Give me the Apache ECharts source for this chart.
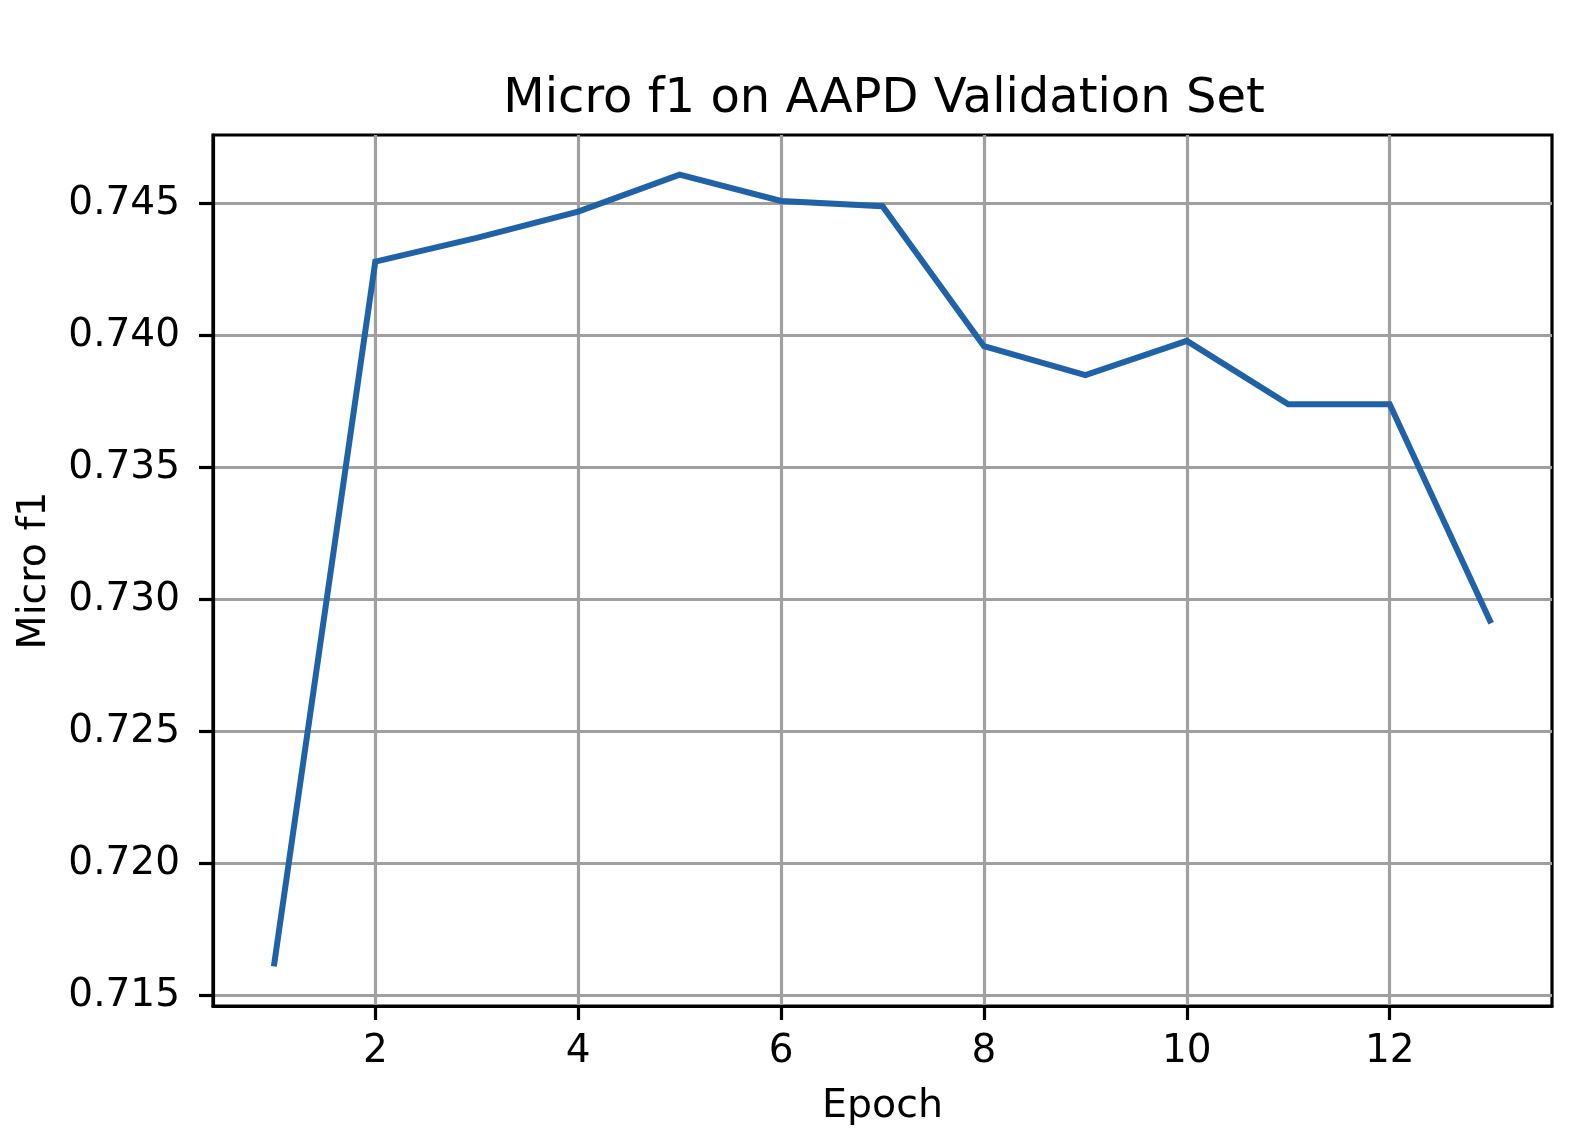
<!DOCTYPE html>
<html>
<head>
<meta charset="utf-8">
<script src="https://cdn.jsdelivr.net/npm/echarts@6/dist/echarts.min.js"></script>
<style>
  html, body { margin: 0; padding: 0; background: #fff; }
  #chart { width: 1584px; height: 1128px; }
</style>
</head>
<body>
<div id="chart"></div>
<script>
const epochs = [1, 2, 3, 4, 5, 6, 7, 8, 9, 10, 11, 12, 13];
const microF1 = [0.7161, 0.7428, 0.7437, 0.7447, 0.7461, 0.7451, 0.7449, 0.7396, 0.7385, 0.7398, 0.7374, 0.7374, 0.7291];
const xTicks = [2, 4, 6, 8, 10, 12];
const yTicks = [0.715, 0.720, 0.725, 0.730, 0.735, 0.740, 0.745];

const FONT = 'DejaVu Sans';
const chart = echarts.init(document.getElementById('chart'), null, { renderer: 'canvas' });
chart.setOption({
  animation: false,
  backgroundColor: '#ffffff',
  title: {
    text: 'Micro f1 on AAPD Validation Set',
    left: 879, textAlign: 'center', top: 71,
    textStyle: { fontFamily: FONT, fontSize: 48, fontWeight: 'normal', color: '#000' }
  },
  grid: {
    left: 213, right: 32, top: 135, bottom: 122,
    containLabel: false, outerBoundsMode: 'none',
    show: true, borderColor: '#000', borderWidth: 3.2, backgroundColor: 'transparent'
  },
  xAxis: {
    type: 'value', min: 0.4, max: 13.6,
    name: 'Epoch', nameLocation: 'middle', nameGap: 81,
    nameTextStyle: { fontFamily: FONT, fontSize: 39.5, color: '#000' },
    axisLine: { show: true, onZero: false, lineStyle: { color: '#000', width: 3.2 } },
    axisTick: { show: true, inside: false, length: 14, customValues: xTicks, lineStyle: { color: '#000', width: 3.2 } },
    axisLabel: { margin: 26, customValues: xTicks, fontFamily: FONT, fontSize: 39, color: '#000' },
    splitLine: { show: true, lineStyle: { color: '#a0a0a0', width: 3.2 } }
  },
  yAxis: {
    type: 'value', min: 0.7146, max: 0.7476,
    name: 'Micro f1', nameLocation: 'middle', nameGap: 158,
    nameTextStyle: { fontFamily: FONT, fontSize: 39.5, color: '#000' },
    axisLine: { show: true, onZero: false, lineStyle: { color: '#000', width: 3.2 } },
    axisTick: { show: true, inside: false, length: 14, customValues: yTicks, lineStyle: { color: '#000', width: 3.2 } },
    axisLabel: { margin: 33, customValues: yTicks, fontFamily: FONT, fontSize: 39, color: '#000',
      formatter: v => v.toFixed(3) },
    splitLine: { show: true, lineStyle: { color: '#a0a0a0', width: 3.2 } }
  },
  series: [{
    type: 'line',
    data: epochs.map((e, i) => [e, microF1[i]]),
    showSymbol: false, symbol: 'none',
    lineStyle: { color: '#1f62a8', width: 6, join: 'miter', cap: 'butt' },
    z: 3
  }]
});
</script>
</body>
</html>
